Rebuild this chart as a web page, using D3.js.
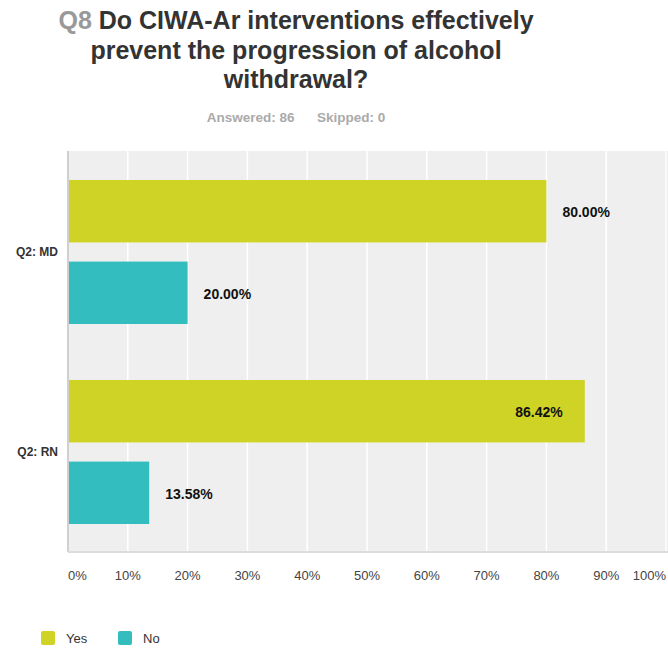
<!DOCTYPE html>
<html><head><meta charset="utf-8">
<script src="https://cdn.jsdelivr.net/npm/d3@7"></script>
<style>body{margin:0;background:#fff}svg{display:block}</style>
</head><body>
<svg id="c" width="668" height="652"></svg>
<script>
const categories = ["Q2: MD", "Q2: RN"];
const seriesNames = ["Yes", "No"];
const yesValues = [80.00, 86.42];
const noValues = [20.00, 13.58];
const tickValues = [0,10,20,30,40,50,60,70,80,90,100];
const tickLabels = ["0%","10%","20%","30%","40%","50%","60%","70%","80%","90%","100%"];
const colors = ["#cfd326", "#33bdbf"];

const svg = d3.select("#c");
const pL = 68, pR = 666, pT = 151, pB = 551;
const x = d3.scaleLinear().domain([0,100]).range([pL, pR]);
const y0 = d3.scaleBand().domain(categories).range([pT, pB]);
const y1 = d3.scaleBand().domain(seriesNames).range([29, 173]).paddingInner(0.235);

svg.append("rect").attr("x", pL).attr("y", pT).attr("width", 668-pL).attr("height", pB-pT).attr("fill", "#efefef");
svg.append("g").selectAll("line").data(tickValues.slice(1)).join("line")
  .attr("x1", d=>x(d)).attr("x2", d=>x(d)).attr("y1", pT).attr("y2", pB)
  .attr("stroke", "#fff").attr("stroke-width", 1.5);

const data = [];
categories.forEach((c,i)=>{
  data.push({cat:c, s:"Yes", v:yesValues[i]});
  data.push({cat:c, s:"No", v:noValues[i]});
});
const col = d3.scaleOrdinal().domain(seriesNames).range(colors);

svg.append("g").selectAll("rect").data(data).join("rect")
  .attr("x", x(0)).attr("y", d=>y0(d.cat)+y1(d.s))
  .attr("width", d=>x(d.v)-x(0)).attr("height", y1.bandwidth())
  .attr("fill", d=>col(d.s));

svg.append("g").selectAll("text").data(data).join("text")
  .attr("x", d=> d.v > 85 ? x(d.v)-22 : x(d.v)+16)
  .attr("text-anchor", d=> d.v > 85 ? "end" : "start")
  .attr("y", d=>y0(d.cat)+y1(d.s)+y1.bandwidth()/2+1)
  .attr("dy", "0.35em")
  .attr("font-family", "Liberation Sans, Arial, sans-serif")
  .attr("font-weight", "bold").attr("font-size", 14).attr("fill", "#111")
  .text(d=>d.v.toFixed(2)+"%");

svg.append("line").attr("x1", pL).attr("x2", pL).attr("y1", pT).attr("y2", pB+1)
  .attr("stroke", "#d0d0d0").attr("stroke-width", 2);
svg.append("line").attr("x1", pL).attr("x2", 668).attr("y1", pB+1).attr("y2", pB+1)
  .attr("stroke", "#dcdcdc").attr("stroke-width", 2);

svg.append("g").selectAll("text").data(categories).join("text")
  .attr("x", 58).attr("y", d=>y0(d)+y0.bandwidth()/2+1).attr("dy","0.35em")
  .attr("text-anchor","end")
  .attr("font-family", "Liberation Sans, Arial, sans-serif")
  .attr("font-weight","bold").attr("font-size",12).attr("fill","#333")
  .text(d=>d);

svg.append("g").selectAll("text").data(tickValues).join("text")
  .attr("x", d=>x(d))
  .attr("text-anchor", (d,i)=> i===0 ? "start" : (i===tickValues.length-1 ? "end" : "middle"))
  .attr("y", 580)
  .attr("font-family", "Liberation Sans, Arial, sans-serif")
  .attr("font-size", 13).attr("fill", "#444")
  .text((d,i)=>tickLabels[i]);

const tf = "Liberation Sans Narrow, Arial Narrow, sans-serif";
const t1 = svg.append("text").attr("x", 296).attr("y", 29).attr("text-anchor","middle")
  .attr("font-family", tf).attr("font-weight","bold").attr("font-size",25).attr("fill","#333");
t1.append("tspan").attr("fill","#999").text("Q8");
t1.append("tspan").text(" Do CIWA-Ar interventions effectively");
svg.append("text").attr("x", 296).attr("y", 59).attr("text-anchor","middle")
  .attr("font-family", tf).attr("font-weight","bold").attr("font-size",25).attr("fill","#333")
  .text("prevent the progression of alcohol");
svg.append("text").attr("x", 296).attr("y", 88).attr("text-anchor","middle")
  .attr("font-family", tf).attr("font-weight","bold").attr("font-size",25).attr("fill","#333")
  .text("withdrawal?");

svg.append("text").attr("x", 296).attr("y", 122).attr("text-anchor","middle")
  .attr("font-family", tf).attr("font-weight","bold").attr("font-size",13.5).attr("fill","#aaa")
  .style("white-space","pre")
  .text("Answered: 86      Skipped: 0");

const lg = svg.append("g").selectAll("g").data(seriesNames).join("g")
  .attr("transform", (d,i)=>`translate(${i===0?41:118},631)`);
lg.append("rect").attr("width",14).attr("height",14).attr("rx",2).attr("fill", d=>col(d));
lg.append("text").attr("x", 25).attr("y", 7).attr("dy","0.35em")
  .attr("font-family", "Liberation Sans, Arial, sans-serif").attr("font-size",13).attr("fill","#333")
  .text(d=>d);
</script>
</body></html>
